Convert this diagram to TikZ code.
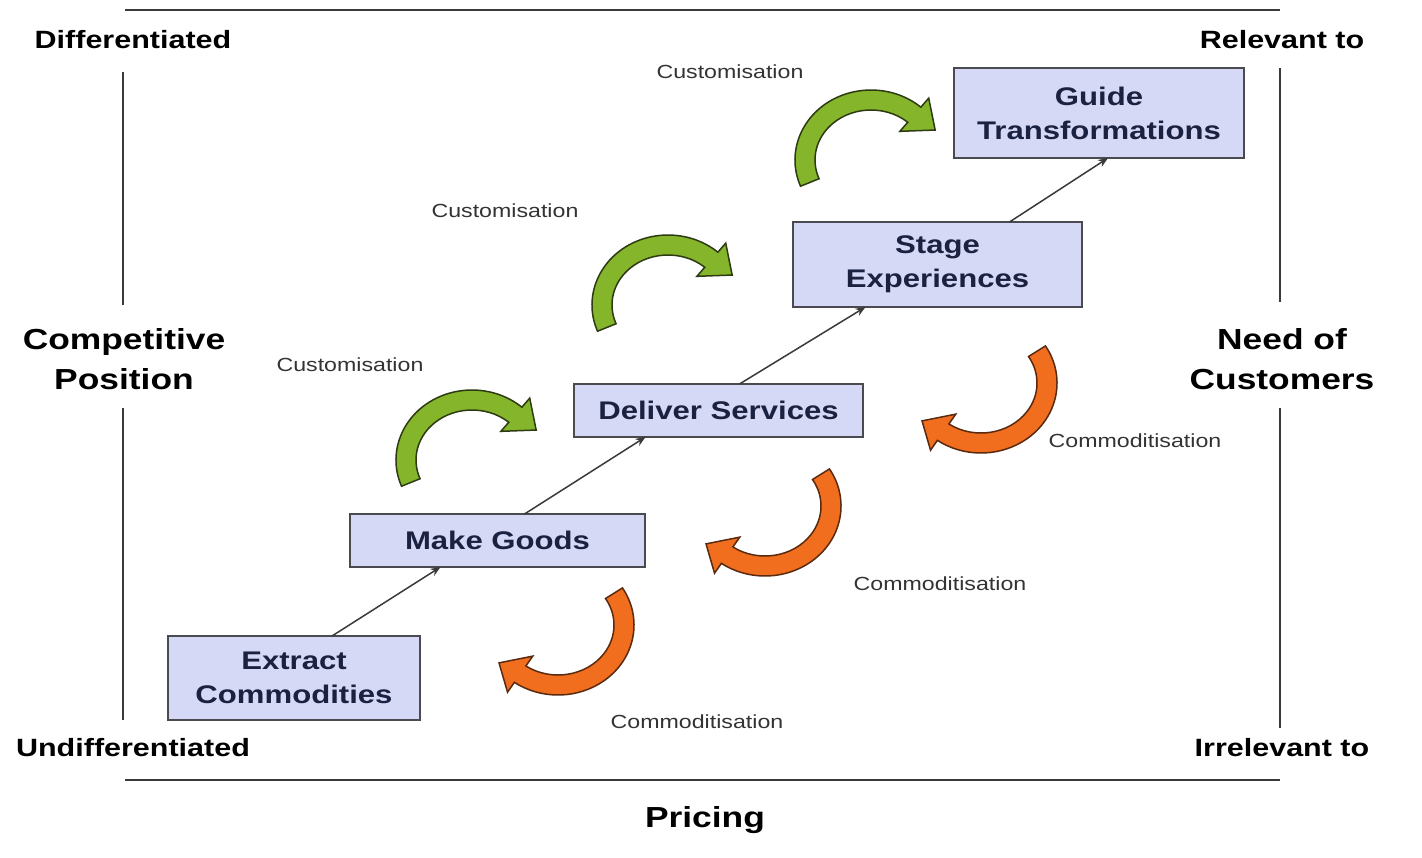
\documentclass[tikz,border=0pt]{standalone}
\usepackage{fontspec}
\setmainfont[FakeStretch=1.22]{Liberation Sans}
\usetikzlibrary{arrows.meta}
\definecolor{nen}{HTML}{D5D9F6}
\definecolor{vien}{HTML}{4A4A50}
\definecolor{chu}{HTML}{1B2140}
\definecolor{chunho}{HTML}{333333}
\definecolor{mautruc}{HTML}{3A3A3A}
\definecolor{xanh}{HTML}{84B52A}
\definecolor{xanhvien}{HTML}{2E3B12}
\definecolor{cam}{HTML}{F06E1E}
\definecolor{camvien}{HTML}{5A2A10}
\begin{document}
\begin{tikzpicture}[x=1pt, y=-1pt, line join=miter, every node/.style={inner sep=0pt, outer sep=0pt}, hop/.style={draw=vien, line width=2pt, fill=nen, text=chu, font=\bfseries\fontsize{25.5}{34}\selectfont, align=center}, nhan/.style={font=\bfseries\fontsize{25}{32}\selectfont, align=center}, lon/.style={font=\bfseries\fontsize{29}{40}\selectfont, align=center}, nho/.style={font=\fontsize{19}{22}\selectfont, text=chunho}, muiten/.style={draw=mautruc, line width=1.5pt, -{Stealth[length=10pt, width=8pt]}}, truc/.style={draw=mautruc, line width=2pt}]

	% Khung
	\fill[white] (0,0) rectangle (1422,857);
	\useasboundingbox (0,0) rectangle (1422,857);

	% Truc
	\draw[truc] (125,10) -- (1280,10);
	\draw[truc] (125,780) -- (1280,780);
	\draw[truc] (123,72) -- (123,305);
	\draw[truc] (123,408) -- (123,720);
	\draw[truc] (1280,68) -- (1280,302);
	\draw[truc] (1280,408) -- (1280,728);

	% Nhan truc
	\node[nhan] (diff) at (133,40) {Differentiated};
	\node[nhan] (undiff) at (133,748) {Undifferentiated};
	\node[nhan] (rel) at (1282,40) {Relevant to};
	\node[nhan] (irrel) at (1282,748) {Irrelevant to};
	\node[lon] (comp) at (124,359) {Competitive\\Position};
	\node[lon] (need) at (1282,359) {Need of\\Customers};
	\node[lon] (price) at (705,820) {Pricing};

	% Cac bac
	\node[hop, minimum width=252, minimum height=84] (ec) at (294,678) {Extract\\Commodities};
	\node[hop, minimum width=295, minimum height=53] (mg) at (497.5,540.5) {Make Goods};
	\node[hop, minimum width=289, minimum height=53] (ds) at (718.5,410.5) {Deliver Services};
	\node[hop, minimum width=289, minimum height=85] (se) at (937.5,264.5) {Stage\\Experiences};
	\node[hop, minimum width=290, minimum height=90] (gt) at (1099,113) {Guide\\Transformations};

	% Mui ten thang
	\draw[muiten] ([xshift=38]ec.north) -- ([xshift=-57]mg.south);
	\draw[muiten] ([xshift=27]mg.north) -- ([xshift=-73]ds.south);
	\draw[muiten] ([xshift=21]ds.north) -- ([xshift=-72]se.south);
	\draw[muiten] ([xshift=72]se.north) -- ([xshift=9]gt.south);

	% Mui ten cong
	\foreach \cx/\cy/\s/\e/\t/\mau/\vienmau in {472/460/158/311/333/xanh/xanhvien, 668/305/158/311/333/xanh/xanhvien, 871/160/158/311/333/xanh/xanhvien, 558/625/328/485/505/cam/camvien, 765/506/328/485/505/cam/camvien, 981/383/328/485/505/cam/camvien}
	{
		\begin{scope}[shift={(\cx,\cy)}]
			\filldraw[fill=\mau, draw=\vienmau, line width=1.5pt] (\s:76 and 70) arc[start angle=\s, end angle=\e, x radius=76, y radius=70] -- (\e:88 and 82) -- (\t:72 and 66) -- (\e:44 and 38) -- (\e:56 and 50) arc[start angle=\e, end angle=\s, x radius=56, y radius=50] -- cycle;
		\end{scope}
	}

	% Nhan nho
	\node[nho] (cu1) at (350,365) {Customisation};
	\node[nho] (cu2) at (505,211) {Customisation};
	\node[nho] (cu3) at (730,72) {Customisation};
	\node[nho] (co1) at (697,722) {Commoditisation};
	\node[nho] (co2) at (940,584) {Commoditisation};
	\node[nho] (co3) at (1135,441) {Commoditisation};

\end{tikzpicture}
\end{document}
